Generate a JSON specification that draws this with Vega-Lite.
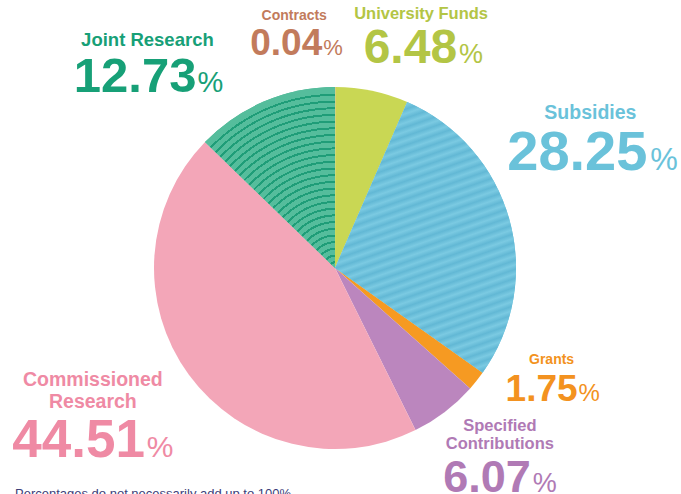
{
  "$schema": "https://vega.github.io/schema/vega-lite/v6.json",
  "width": 670,
  "height": 452,
  "autosize": "none",
  "padding": {"left": 0, "top": 42, "right": 11, "bottom": 0},
  "background": "white",
  "config": {"view": {"stroke": null}},
  "title": {"text": "Percentages do not necessarily add up to 100%", "orient": "bottom", "anchor": "start", "frame": "group", "offset": 0, "dy": -17, "dx": 15, "font": "Liberation Sans", "fontSize": 13, "fontWeight": "normal", "color": "#3d4079"},
  "data": {"values": [
    {"name": "Contracts", "label": "Contracts", "value": 0.04, "ord": 1},
    {"name": "University Funds", "label": "University Funds", "value": 6.48, "ord": 2},
    {"name": "Subsidies", "label": "Subsidies", "value": 28.25, "ord": 3},
    {"name": "Grants", "label": "Grants", "value": 1.75, "ord": 4},
    {"name": "Specified Contributions", "label": "Specified\nContributions", "value": 6.07, "ord": 5},
    {"name": "Commissioned Research", "label": "Commissioned\nResearch", "value": 44.51, "ord": 6},
    {"name": "Joint Research", "label": "Joint Research", "value": 12.73, "ord": 7}
  ]},
  "encoding": {
    "theta": {"field": "value", "type": "quantitative", "stack": true},
    "order": {"field": "ord", "type": "quantitative"},
    "detail": {"field": "name", "type": "nominal"}
  },
  "layer": [
    {"mark": {"type": "arc", "outerRadius": 181},
     "encoding": {"color": {"field": "name", "type": "nominal", "legend": null,
       "scale": {"domain": ["Contracts", "University Funds", "Subsidies", "Grants", "Specified Contributions", "Commissioned Research", "Joint Research"],
                 "range": ["#c47c5e", "#c9d754", "#6fc2db", "#f69a22", "#bb86be", "#f3a6b8", "#46b18f"]}}}},

    {"mark": {"type": "arc", "outerRadius": 181, "fill": {"gradient": "radial", "x1": 0.8597, "y1": 1, "r1": 0, "x2": 0.8597, "y2": 1, "r2": 1, "stops": [
      {"offset": 0, "color": "#55bd9c"},
      {"offset": 0.026, "color": "#55bd9c"}, {"offset": 0.026, "color": "#1f9d78"}, {"offset": 0.037, "color": "#1f9d78"}, {"offset": 0.037, "color": "#55bd9c"},
      {"offset": 0.063, "color": "#55bd9c"}, {"offset": 0.063, "color": "#1f9d78"}, {"offset": 0.074, "color": "#1f9d78"}, {"offset": 0.074, "color": "#55bd9c"},
      {"offset": 0.100, "color": "#55bd9c"}, {"offset": 0.100, "color": "#1f9d78"}, {"offset": 0.111, "color": "#1f9d78"}, {"offset": 0.111, "color": "#55bd9c"},
      {"offset": 0.137, "color": "#55bd9c"}, {"offset": 0.137, "color": "#1f9d78"}, {"offset": 0.148, "color": "#1f9d78"}, {"offset": 0.148, "color": "#55bd9c"},
      {"offset": 0.174, "color": "#55bd9c"}, {"offset": 0.174, "color": "#1f9d78"}, {"offset": 0.185, "color": "#1f9d78"}, {"offset": 0.185, "color": "#55bd9c"},
      {"offset": 0.211, "color": "#55bd9c"}, {"offset": 0.211, "color": "#1f9d78"}, {"offset": 0.222, "color": "#1f9d78"}, {"offset": 0.222, "color": "#55bd9c"},
      {"offset": 0.248, "color": "#55bd9c"}, {"offset": 0.248, "color": "#1f9d78"}, {"offset": 0.259, "color": "#1f9d78"}, {"offset": 0.259, "color": "#55bd9c"},
      {"offset": 0.285, "color": "#55bd9c"}, {"offset": 0.285, "color": "#1f9d78"}, {"offset": 0.296, "color": "#1f9d78"}, {"offset": 0.296, "color": "#55bd9c"},
      {"offset": 0.322, "color": "#55bd9c"}, {"offset": 0.322, "color": "#1f9d78"}, {"offset": 0.333, "color": "#1f9d78"}, {"offset": 0.333, "color": "#55bd9c"},
      {"offset": 0.359, "color": "#55bd9c"}, {"offset": 0.359, "color": "#1f9d78"}, {"offset": 0.370, "color": "#1f9d78"}, {"offset": 0.370, "color": "#55bd9c"},
      {"offset": 0.396, "color": "#55bd9c"}, {"offset": 0.396, "color": "#1f9d78"}, {"offset": 0.407, "color": "#1f9d78"}, {"offset": 0.407, "color": "#55bd9c"},
      {"offset": 0.433, "color": "#55bd9c"}, {"offset": 0.433, "color": "#1f9d78"}, {"offset": 0.444, "color": "#1f9d78"}, {"offset": 0.444, "color": "#55bd9c"},
      {"offset": 0.470, "color": "#55bd9c"}, {"offset": 0.470, "color": "#1f9d78"}, {"offset": 0.481, "color": "#1f9d78"}, {"offset": 0.481, "color": "#55bd9c"},
      {"offset": 0.507, "color": "#55bd9c"}, {"offset": 0.507, "color": "#1f9d78"}, {"offset": 0.518, "color": "#1f9d78"}, {"offset": 0.518, "color": "#55bd9c"},
      {"offset": 0.544, "color": "#55bd9c"}, {"offset": 0.544, "color": "#1f9d78"}, {"offset": 0.555, "color": "#1f9d78"}, {"offset": 0.555, "color": "#55bd9c"},
      {"offset": 0.581, "color": "#55bd9c"}, {"offset": 0.581, "color": "#1f9d78"}, {"offset": 0.592, "color": "#1f9d78"}, {"offset": 0.592, "color": "#55bd9c"},
      {"offset": 0.618, "color": "#55bd9c"}, {"offset": 0.618, "color": "#1f9d78"}, {"offset": 0.629, "color": "#1f9d78"}, {"offset": 0.629, "color": "#55bd9c"},
      {"offset": 0.655, "color": "#55bd9c"}, {"offset": 0.655, "color": "#1f9d78"}, {"offset": 0.666, "color": "#1f9d78"}, {"offset": 0.666, "color": "#55bd9c"},
      {"offset": 0.692, "color": "#55bd9c"}, {"offset": 0.692, "color": "#1f9d78"}, {"offset": 0.703, "color": "#1f9d78"}, {"offset": 0.703, "color": "#55bd9c"},
      {"offset": 0.729, "color": "#55bd9c"}, {"offset": 0.729, "color": "#1f9d78"}, {"offset": 0.740, "color": "#1f9d78"}, {"offset": 0.740, "color": "#55bd9c"},
      {"offset": 0.766, "color": "#55bd9c"}, {"offset": 0.766, "color": "#1f9d78"}, {"offset": 0.777, "color": "#1f9d78"}, {"offset": 0.777, "color": "#55bd9c"},
      {"offset": 0.803, "color": "#55bd9c"}, {"offset": 0.803, "color": "#1f9d78"}, {"offset": 0.814, "color": "#1f9d78"}, {"offset": 0.814, "color": "#55bd9c"},
      {"offset": 0.840, "color": "#55bd9c"}, {"offset": 0.840, "color": "#1f9d78"}, {"offset": 0.851, "color": "#1f9d78"}, {"offset": 0.851, "color": "#55bd9c"},
      {"offset": 0.877, "color": "#55bd9c"}, {"offset": 0.877, "color": "#1f9d78"}, {"offset": 0.888, "color": "#1f9d78"}, {"offset": 0.888, "color": "#55bd9c"},
      {"offset": 0.914, "color": "#55bd9c"}, {"offset": 0.914, "color": "#1f9d78"}, {"offset": 0.925, "color": "#1f9d78"}, {"offset": 0.925, "color": "#55bd9c"},
      {"offset": 0.951, "color": "#55bd9c"}, {"offset": 0.951, "color": "#1f9d78"}, {"offset": 0.962, "color": "#1f9d78"}, {"offset": 0.962, "color": "#55bd9c"},
      {"offset": 1, "color": "#55bd9c"}
     ]}},
     "encoding": {"fillOpacity": {"condition": {"test": "datum.name === 'Joint Research'", "value": 1}, "value": 0}}},

    {"mark": {"type": "arc", "outerRadius": 181, "fill": {"gradient": "linear", "x1": 0, "y1": 0, "x2": 0.269, "y2": 1.168, "stops": [
      {"offset": 0, "color": "#7bcae2"}, {"offset": 0.0135, "color": "#62b8d5"}, {"offset": 0.027, "color": "#7bcae2"}, {"offset": 0.0405, "color": "#62b8d5"},
      {"offset": 0.054, "color": "#7bcae2"}, {"offset": 0.0675, "color": "#62b8d5"}, {"offset": 0.081, "color": "#7bcae2"}, {"offset": 0.0945, "color": "#62b8d5"},
      {"offset": 0.108, "color": "#7bcae2"}, {"offset": 0.1215, "color": "#62b8d5"}, {"offset": 0.135, "color": "#7bcae2"}, {"offset": 0.1485, "color": "#62b8d5"},
      {"offset": 0.162, "color": "#7bcae2"}, {"offset": 0.1755, "color": "#62b8d5"}, {"offset": 0.189, "color": "#7bcae2"}, {"offset": 0.2025, "color": "#62b8d5"},
      {"offset": 0.216, "color": "#7bcae2"}, {"offset": 0.2295, "color": "#62b8d5"}, {"offset": 0.243, "color": "#7bcae2"}, {"offset": 0.2565, "color": "#62b8d5"},
      {"offset": 0.27, "color": "#7bcae2"}, {"offset": 0.2835, "color": "#62b8d5"}, {"offset": 0.297, "color": "#7bcae2"}, {"offset": 0.3105, "color": "#62b8d5"},
      {"offset": 0.324, "color": "#7bcae2"}, {"offset": 0.3375, "color": "#62b8d5"}, {"offset": 0.351, "color": "#7bcae2"}, {"offset": 0.3645, "color": "#62b8d5"},
      {"offset": 0.378, "color": "#7bcae2"}, {"offset": 0.3915, "color": "#62b8d5"}, {"offset": 0.405, "color": "#7bcae2"}, {"offset": 0.4185, "color": "#62b8d5"},
      {"offset": 0.432, "color": "#7bcae2"}, {"offset": 0.4455, "color": "#62b8d5"}, {"offset": 0.459, "color": "#7bcae2"}, {"offset": 0.4725, "color": "#62b8d5"},
      {"offset": 0.486, "color": "#7bcae2"}, {"offset": 0.4995, "color": "#62b8d5"}, {"offset": 0.513, "color": "#7bcae2"}, {"offset": 0.5265, "color": "#62b8d5"},
      {"offset": 0.54, "color": "#7bcae2"}, {"offset": 0.5535, "color": "#62b8d5"}, {"offset": 0.567, "color": "#7bcae2"}, {"offset": 0.5805, "color": "#62b8d5"},
      {"offset": 0.594, "color": "#7bcae2"}, {"offset": 0.6075, "color": "#62b8d5"}, {"offset": 0.621, "color": "#7bcae2"}, {"offset": 0.6345, "color": "#62b8d5"},
      {"offset": 0.648, "color": "#7bcae2"}, {"offset": 0.6615, "color": "#62b8d5"}, {"offset": 0.675, "color": "#7bcae2"}, {"offset": 0.6885, "color": "#62b8d5"},
      {"offset": 0.702, "color": "#7bcae2"}, {"offset": 0.7155, "color": "#62b8d5"}, {"offset": 0.729, "color": "#7bcae2"}, {"offset": 0.7425, "color": "#62b8d5"},
      {"offset": 0.756, "color": "#7bcae2"}, {"offset": 0.7695, "color": "#62b8d5"}, {"offset": 0.783, "color": "#7bcae2"}, {"offset": 0.7965, "color": "#62b8d5"},
      {"offset": 0.81, "color": "#7bcae2"}, {"offset": 0.8235, "color": "#62b8d5"}, {"offset": 0.837, "color": "#7bcae2"}, {"offset": 0.8505, "color": "#62b8d5"},
      {"offset": 0.864, "color": "#7bcae2"}, {"offset": 0.8775, "color": "#62b8d5"}, {"offset": 0.891, "color": "#7bcae2"}, {"offset": 0.9045, "color": "#62b8d5"},
      {"offset": 0.918, "color": "#7bcae2"}, {"offset": 0.9315, "color": "#62b8d5"}, {"offset": 0.945, "color": "#7bcae2"}, {"offset": 0.9585, "color": "#62b8d5"},
      {"offset": 0.972, "color": "#7bcae2"}, {"offset": 0.9855, "color": "#62b8d5"}, {"offset": 1, "color": "#7bcae2"}
     ]}},
     "encoding": {"fillOpacity": {"condition": {"test": "datum.name === 'Subsidies'", "value": 1}, "value": 0}}},

    {"mark": {"type": "text", "radius": 181, "dx": -41, "dy": -67, "align": "center", "baseline": "alphabetic", "font": "Liberation Sans", "fontWeight": "bold", "fontSize": 14, "color": "#c27b5c"},
     "encoding": {"text": {"condition": {"test": "datum.name === 'Contracts'", "field": "label"}, "value": ""}}},
    {"mark": {"type": "text", "radius": 181, "dx": -13, "dy": -32, "align": "right", "baseline": "alphabetic", "font": "Liberation Sans", "fontWeight": "bold", "fontSize": 37, "color": "#c27b5c"},
     "encoding": {"text": {"condition": {"test": "datum.name === 'Contracts'", "field": "value", "type": "quantitative", "format": ".2f"}, "value": ""}}},
    {"mark": {"type": "text", "radius": 181, "dx": -12, "dy": -32, "align": "left", "baseline": "alphabetic", "font": "Liberation Sans", "fontWeight": "normal", "fontSize": 22, "color": "#c27b5c"},
     "encoding": {"text": {"condition": {"test": "datum.name === 'Contracts'", "value": "%"}, "value": ""}}},

    {"mark": {"type": "text", "radius": 181, "dx": 49, "dy": -72, "align": "center", "baseline": "alphabetic", "font": "Liberation Sans", "fontWeight": "bold", "fontSize": 16.5, "color": "#b3c545"},
     "encoding": {"text": {"condition": {"test": "datum.name === 'University Funds'", "field": "label"}, "value": ""}}},
    {"mark": {"type": "text", "radius": 181, "dx": 85, "dy": -28, "align": "right", "baseline": "alphabetic", "font": "Liberation Sans", "fontWeight": "bold", "fontSize": 48, "color": "#b3c545"},
     "encoding": {"text": {"condition": {"test": "datum.name === 'University Funds'", "field": "value", "type": "quantitative", "format": ".2f"}, "value": ""}}},
    {"mark": {"type": "text", "radius": 181, "dx": 87, "dy": -28, "align": "left", "baseline": "alphabetic", "font": "Liberation Sans", "fontWeight": "normal", "fontSize": 27, "color": "#b3c545"},
     "encoding": {"text": {"condition": {"test": "datum.name === 'University Funds'", "value": "%"}, "value": ""}}},

    {"mark": {"type": "text", "radius": 181, "dx": 81, "dy": -100, "align": "center", "baseline": "alphabetic", "font": "Liberation Sans", "fontWeight": "bold", "fontSize": 19.5, "color": "#6ac2da"},
     "encoding": {"text": {"condition": {"test": "datum.name === 'Subsidies'", "field": "label"}, "value": ""}}},
    {"mark": {"type": "text", "radius": 181, "dx": 138, "dy": -49, "align": "right", "baseline": "alphabetic", "font": "Liberation Sans", "fontWeight": "bold", "fontSize": 56, "color": "#6ac2da"},
     "encoding": {"text": {"condition": {"test": "datum.name === 'Subsidies'", "field": "value", "type": "quantitative", "format": ".2f"}, "value": ""}}},
    {"mark": {"type": "text", "radius": 181, "dx": 141, "dy": -49, "align": "left", "baseline": "alphabetic", "font": "Liberation Sans", "fontWeight": "normal", "fontSize": 31, "color": "#6ac2da"},
     "encoding": {"text": {"condition": {"test": "datum.name === 'Subsidies'", "value": "%"}, "value": ""}}},

    {"mark": {"type": "text", "radius": 181, "dx": 75, "dy": -17, "align": "center", "baseline": "alphabetic", "font": "Liberation Sans", "fontWeight": "bold", "fontSize": 14, "color": "#f39220"},
     "encoding": {"text": {"condition": {"test": "datum.name === 'Grants'", "field": "label"}, "value": ""}}},
    {"mark": {"type": "text", "radius": 181, "dx": 101, "dy": 20, "align": "right", "baseline": "alphabetic", "font": "Liberation Sans", "fontWeight": "bold", "fontSize": 37, "color": "#f39220"},
     "encoding": {"text": {"condition": {"test": "datum.name === 'Grants'", "field": "value", "type": "quantitative", "format": ".2f"}, "value": ""}}},
    {"mark": {"type": "text", "radius": 181, "dx": 102, "dy": 20, "align": "left", "baseline": "alphabetic", "font": "Liberation Sans", "fontWeight": "normal", "fontSize": 24, "color": "#f39220"},
     "encoding": {"text": {"condition": {"test": "datum.name === 'Grants'", "value": "%"}, "value": ""}}},

    {"mark": {"type": "text", "radius": 181, "dx": 55, "dy": 19, "align": "center", "baseline": "alphabetic", "font": "Liberation Sans", "fontWeight": "bold", "fontSize": 16.5, "lineBreak": "\n", "lineHeight": 18.5, "color": "#b07ab5"},
     "encoding": {"text": {"condition": {"test": "datum.name === 'Specified Contributions'", "field": "label"}, "value": ""}}},
    {"mark": {"type": "text", "radius": 181, "dx": 86, "dy": 80, "align": "right", "baseline": "alphabetic", "font": "Liberation Sans", "fontWeight": "bold", "fontSize": 45, "color": "#b07ab5"},
     "encoding": {"text": {"condition": {"test": "datum.name === 'Specified Contributions'", "field": "value", "type": "quantitative", "format": ".2f"}, "value": ""}}},
    {"mark": {"type": "text", "radius": 181, "dx": 88, "dy": 80, "align": "left", "baseline": "alphabetic", "font": "Liberation Sans", "fontWeight": "normal", "fontSize": 27, "color": "#b07ab5"},
     "encoding": {"text": {"condition": {"test": "datum.name === 'Specified Contributions'", "value": "%"}, "value": ""}}},

    {"mark": {"type": "text", "radius": 181, "dx": -96, "dy": 11, "align": "center", "baseline": "alphabetic", "font": "Liberation Sans", "fontWeight": "bold", "fontSize": 19.5, "lineBreak": "\n", "lineHeight": 22.5, "color": "#ef8aa4"},
     "encoding": {"text": {"condition": {"test": "datum.name === 'Commissioned Research'", "field": "label"}, "value": ""}}},
    {"mark": {"type": "text", "radius": 181, "dx": -44, "dy": 82, "align": "right", "baseline": "alphabetic", "font": "Liberation Sans", "fontWeight": "bold", "fontSize": 53, "color": "#ef8aa4"},
     "encoding": {"text": {"condition": {"test": "datum.name === 'Commissioned Research'", "field": "value", "type": "quantitative", "format": ".2f"}, "value": ""}}},
    {"mark": {"type": "text", "radius": 181, "dx": -42, "dy": 82, "align": "left", "baseline": "alphabetic", "font": "Liberation Sans", "fontWeight": "normal", "fontSize": 30, "color": "#ef8aa4"},
     "encoding": {"text": {"condition": {"test": "datum.name === 'Commissioned Research'", "value": "%"}, "value": ""}}},

    {"mark": {"type": "text", "radius": 181, "dx": -117, "dy": -55, "align": "center", "baseline": "alphabetic", "font": "Liberation Sans", "fontWeight": "bold", "fontSize": 18.5, "color": "#17a077"},
     "encoding": {"text": {"condition": {"test": "datum.name === 'Joint Research'", "field": "label"}, "value": ""}}},
    {"mark": {"type": "text", "radius": 181, "dx": -68, "dy": -9, "align": "right", "baseline": "alphabetic", "font": "Liberation Sans", "fontWeight": "bold", "fontSize": 49, "color": "#17a077"},
     "encoding": {"text": {"condition": {"test": "datum.name === 'Joint Research'", "field": "value", "type": "quantitative", "format": ".2f"}, "value": ""}}},
    {"mark": {"type": "text", "radius": 181, "dx": -67, "dy": -9, "align": "left", "baseline": "alphabetic", "font": "Liberation Sans", "fontWeight": "normal", "fontSize": 29, "color": "#17a077"},
     "encoding": {"text": {"condition": {"test": "datum.name === 'Joint Research'", "value": "%"}, "value": ""}}}
  ]
}
